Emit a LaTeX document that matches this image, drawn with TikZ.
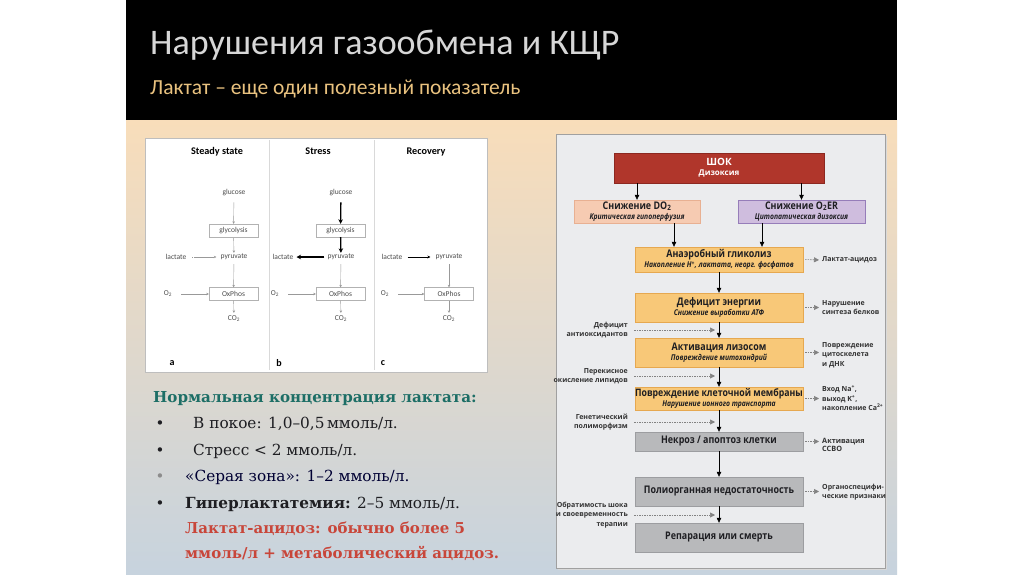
\documentclass[tikz,border=0pt]{standalone}
\usepackage{fontspec}
\setmainfont{DejaVu Serif}
\newfontfamily\calfont{Carlito}
\newfontfamily\ptfont{Open Sans}
\newfontfamily\condfont[FakeStretch=0.85]{Open Sans}
\usetikzlibrary{arrows.meta,calc}
\definecolor{bgtop}{RGB}{248,221,186}
\definecolor{bgbot}{RGB}{199,211,222}
\definecolor{ttlgray}{RGB}{215,215,215}
\definecolor{subgold}{RGB}{233,194,127}
\definecolor{headteal}{RGB}{29,110,102}
\definecolor{redtxt}{RGB}{200,70,58}
\definecolor{darktxt}{RGB}{30,30,34}
\definecolor{imgborder}{RGB}{190,190,190}
\definecolor{panelfill}{RGB}{235,236,238}
\definecolor{panelline}{RGB}{160,160,160}
\definecolor{shockfill}{RGB}{176,54,43}
\definecolor{shockline}{RGB}{140,40,32}
\definecolor{dofill}{RGB}{246,203,178}
\definecolor{doline}{RGB}{232,176,146}
\definecolor{erfill}{RGB}{207,189,222}
\definecolor{erline}{RGB}{150,125,185}
\definecolor{orfill}{RGB}{248,200,120}
\definecolor{orline}{RGB}{230,168,80}
\definecolor{gyfill}{RGB}{184,185,187}
\definecolor{gyline}{RGB}{156,157,160}
\definecolor{dashgray}{RGB}{130,130,130}
\begin{document}
\begin{tikzpicture}[x=1pt,y=-1pt,
  smalllab/.style={font=\calfont\fontsize{7.5}{9}\selectfont, text=black!70, inner sep=1pt},
  paneltitle/.style={font=\calfont\bfseries\fontsize{10.2}{11}\selectfont, inner sep=0pt, anchor=base},
  pbox/.style={draw=black!30, line width=0.4pt, minimum width=49pt, minimum height=13pt, inner sep=0pt, font=\calfont\fontsize{7.5}{9}\selectfont, text=black!70},
  paneltag/.style={font=\calfont\bfseries\fontsize{10}{11}\selectfont, inner sep=0pt},
  thinarr/.style={-{Stealth[length=2.5pt,width=2.5pt]}, black!40, line width=0.4pt},
  thickarr/.style={-{Stealth[length=4.5pt,width=4.5pt]}, black, line width=1.3pt},
  medarr/.style={-{Stealth[length=3pt,width=3pt]}, black, line width=0.8pt},
  flowbox/.style={minimum width=168pt, align=center, inner sep=0pt, text=darktxt},
  gtitle/.style={font=\condfont\bfseries\fontsize{10.5}{11}\selectfont},
  downarr/.style={-{Triangle[length=5pt,width=4.5pt]}, black, line width=0.6pt},
  dasharr/.style={dash pattern=on 1.5pt off 1pt, dashgray, line width=0.6pt, -{Triangle[length=5pt,width=5pt]}},
  sidelab/.style={font=\ptfont\bfseries\fontsize{7}{9.5}\selectfont, text=black!80, inner sep=0pt},
  bodytxt/.style={font=\fontsize{15.3}{18}\selectfont, text=darktxt, inner sep=0pt, anchor=base west},
  bulletdot/.style={font=\fontsize{15}{18}\selectfont, text=darktxt, inner sep=0pt, anchor=base}]
\useasboundingbox (0,0) rectangle (1024,574);
\fill[white] (0,0) rectangle (1024,574);
% slide background
\shade[top color=bgtop, bottom color=bgbot] (126,120) rectangle (897,574);
\fill[black] (126,0) rectangle (897,120);
\node[anchor=base west, inner sep=0pt, text=ttlgray, font=\calfont\fontsize{36}{40}\selectfont] (title) at (150,54) {Нарушения газообмена и КЩР};
\node[anchor=base west, inner sep=0pt, text=subgold, font=\calfont\fontsize{21.5}{24}\selectfont] (subtitle) at (150,94) {Лактат – еще один полезный показатель};

% ---------- left image ----------
\draw[imgborder, fill=white, line width=0.8pt] (145,138) rectangle (487,372);
\draw[black!15, line width=0.6pt] (269,140) -- (269,370);
\draw[black!15, line width=0.6pt] (374,140) -- (374,370);
\node[paneltitle] (ta) at (217,154.5) {Steady state};
\node[paneltitle] (tb) at (318,154.5) {Stress};
\node[paneltitle] (tc) at (426,154.5) {Recovery};
% panel a
\node[smalllab] (glua) at (234,193) {glucose};
\node[pbox] (glya) at (233.5,230.5) {glycolysis};
\node[smalllab] (pyra) at (234,257) {pyruvate};
\node[smalllab] (laca) at (176,257) {lactate};
\node[pbox] (oxa) at (233.5,294) {OxPhos};
\node[smalllab] (o2a) at (168,294) {O\textsubscript{2}};
\node[smalllab] (co2a) at (234,319) {CO\textsubscript{2}};
\node[paneltag] (la) at (172,363) {a};
\draw[thinarr, shorten <=5pt] (glua) -- (glya);
\draw[thinarr, shorten <=1pt] (glya) -- (pyra);
\draw[thinarr, dash pattern=on 0.6pt off 1.2pt on 20pt, shorten <=5pt, shorten >=3pt] (laca) -- (pyra);
\draw[thinarr, shorten <=3pt] (pyra) -- (oxa);
\draw[thinarr, shorten <=8pt] (o2a) -- (oxa);
\draw[thinarr, shorten >=2pt] (oxa) -- (co2a);
% panel b
\node[smalllab] (glub) at (341,193) {glucose};
\node[pbox] (glyb) at (340.5,230.5) {glycolysis};
\node[smalllab] (pyrb) at (341,257) {pyruvate};
\node[smalllab] (lacb) at (283,257) {lactate};
\node[pbox] (oxb) at (340.5,294) {OxPhos};
\node[smalllab] (o2b) at (275,294) {O\textsubscript{2}};
\node[smalllab] (co2b) at (341,319) {CO\textsubscript{2}};
\node[paneltag] (lb) at (279,363) {b};
\draw[thickarr, shorten <=5pt] (glub) -- (glyb);
\draw[thickarr, shorten <=0pt] (glyb) -- (pyrb);
\draw[thickarr, shorten <=2pt, shorten >=2pt] (pyrb) -- (lacb);
\draw[thinarr, shorten <=3pt] (pyrb) -- (oxb);
\draw[thinarr, shorten <=8pt] (o2b) -- (oxb);
\draw[thinarr, shorten >=2pt] (oxb) -- (co2b);
% panel c
\node[smalllab] (pyrc) at (449,257) {pyruvate};
\node[smalllab] (lacc) at (392,257) {lactate};
\node[pbox] (oxc) at (449,294) {OxPhos};
\node[smalllab] (o2c) at (385,294) {O\textsubscript{2}};
\node[smalllab] (co2c) at (449,319) {CO\textsubscript{2}};
\node[paneltag] (lc) at (383,363) {c};
\draw[medarr, shorten <=4pt, shorten >=4pt] (lacc) -- (pyrc);
\draw[thinarr, shorten <=3pt] (pyrc) -- (oxc);
\draw[thinarr, shorten <=8pt] (o2c) -- (oxc);
\draw[thinarr, shorten >=2pt] (oxc) -- (co2c);

% ---------- left text ----------
\node[anchor=base west, inner sep=0pt, text=headteal, font=\bfseries\fontsize{15.1}{18}\selectfont] (head) at (153,402) {Нормальная концентрация лактата:};
\node[bulletdot] (b1) at (160,428) {•};
\node[bodytxt] (t1) at (193,428) {В покое: 1,0–0,5\,ммоль/л.};
\node[bulletdot] (b2) at (160,455) {•};
\node[bodytxt] (t2) at (193,455) {Стресс < 2 ммоль/л.};
\node[bulletdot, text=black!45] (b3) at (160,481) {•};
\node[bodytxt, text=black!80!blue] (t3) at (185,481) {«Серая зона»: 1–2 ммоль/л.};
\node[bulletdot] (b4) at (160,508) {•};
\node[bodytxt] (t4) at (185,508) {\textbf{Гиперлактатемия:} 2–5 ммоль/л.};
\node[bodytxt, text=redtxt, font=\bfseries\fontsize{15}{18}\selectfont] (r1) at (185,533) {Лактат-ацидоз: обычно более 5};
\node[bodytxt, text=redtxt, font=\bfseries\fontsize{15}{18}\selectfont] (r2) at (185,558) {ммоль/л + метаболический ацидоз.};

% ---------- right flowchart ----------
\fill[black!15] (557.5,135.5) rectangle (886.5,569.5);
\draw[panelline, fill=panelfill, line width=0.8pt] (556,134) rectangle (885,568);

\node[flowbox, minimum width=210pt, minimum height=30pt, fill=shockfill, draw=shockline, text=white] (shock) at (719,168)
  {{\ptfont\bfseries\fontsize{10}{11}\selectfont ШОК}\\[-2pt]{\ptfont\bfseries\fontsize{8}{9}\selectfont Дизоксия}};
\node[flowbox, minimum width=126pt, minimum height=23pt, fill=dofill, draw=doline] (do2) at (637,211.5)
  {{\condfont\bfseries\fontsize{10.5}{10}\selectfont Снижение DO\textsubscript{2}}\\[-1.5pt]{\condfont\bfseries\itshape\fontsize{8}{8}\selectfont Критическая гипоперфузия}};
\node[flowbox, minimum width=127pt, minimum height=23pt, fill=erfill, draw=erline] (o2er) at (801.5,211.5)
  {{\condfont\bfseries\fontsize{10.5}{10}\selectfont Снижение O\textsubscript{2}ER}\\[-1.5pt]{\condfont\bfseries\itshape\fontsize{8}{8}\selectfont Цитопатическая дизоксия}};
\node[flowbox, minimum height=25pt, fill=orfill, draw=orline] (anaer) at (719,259.5)
  {{\condfont\bfseries\fontsize{10.5}{10}\selectfont Анаэробный гликолиз}\\[-1.5pt]{\condfont\bfseries\itshape\fontsize{8}{8}\selectfont Накопление H\textsuperscript{+}, лактата, неорг. фосфатов}};
\node[flowbox, minimum height=29pt, fill=orfill, draw=orline] (energy) at (719,307.5)
  {{\condfont\bfseries\fontsize{10.5}{10}\selectfont Дефицит энергии}\\[-1.5pt]{\condfont\bfseries\itshape\fontsize{8}{8}\selectfont Снижение выработки АТФ}};
\node[flowbox, minimum height=29pt, fill=orfill, draw=orline] (lyso) at (719,352.5)
  {{\condfont\bfseries\fontsize{10.5}{10}\selectfont Активация лизосом}\\[-1.5pt]{\condfont\bfseries\itshape\fontsize{8}{8}\selectfont Повреждение митохондрий}};
\node[flowbox, minimum height=23pt, fill=orfill, draw=orline] (memb) at (719,398.5)
  {{\condfont\bfseries\fontsize{10.3}{10}\selectfont Повреждение клеточной мембраны}\\[-1.5pt]{\condfont\bfseries\itshape\fontsize{8}{8}\selectfont Нарушение ионного транспорта}};
\node[flowbox, minimum height=19pt, fill=gyfill, draw=gyline, gtitle] (necro) at (719,441.5) {Некроз / апоптоз клетки};
\node[flowbox, minimum height=29pt, fill=gyfill, draw=gyline, gtitle] (mof) at (719,491.5) {Полиорганная недостаточность};
\node[flowbox, minimum height=29pt, fill=gyfill, draw=gyline, gtitle] (rep) at (719,537.5) {Репарация или смерть};

% vertical arrows
\draw[downarr] (shock.south -| do2) -- (do2.north);
\draw[downarr] (shock.south -| o2er) -- (o2er.north);
\draw[downarr] ([xshift=37pt]do2.south) -- ([xshift=37pt]do2.south |- anaer.north);
\draw[downarr] ([xshift=-39.5pt]o2er.south) -- ([xshift=-39.5pt]o2er.south |- anaer.north);
\draw[downarr] (anaer) -- (energy);
\draw[downarr] (energy) -- (lyso);
\draw[downarr] (lyso) -- (memb);
\draw[downarr] (memb) -- (necro);
\draw[downarr] (necro) -- (mof);
\draw[downarr] (mof) -- (rep);

% right labels
\node[sidelab, anchor=west, align=left] (rl1) at (822,260) {Лактат-ацидоз};
\node[sidelab, anchor=west, align=left] (rl2) at (822,307.5) {Нарушение\\синтеза белков};
\node[sidelab, anchor=west, align=left] (rl3) at (822,355) {Повреждение\\цитоскелета\\и ДНК};
\node[sidelab, anchor=west, align=left] (rl4) at (822,398.5) {Вход Na\textsuperscript{+},\\выход K\textsuperscript{+},\\накопление Ca\textsuperscript{2+}};
\node[sidelab, anchor=west, align=left, font=\ptfont\bfseries\fontsize{7.3}{8}\selectfont] (rl5) at (822,444.5) {Активация\\ССВО};
\node[sidelab, anchor=west, align=left] (rl6) at (822,492) {Органоспецифи-\\ческие признаки};
\draw[dasharr, shorten <=2pt, shorten >=3pt] (anaer.east) -- (rl1.west);
\draw[dasharr, shorten <=2pt, shorten >=3pt] (energy.east) -- (energy.east -| rl2.west);
\draw[dasharr, shorten <=2pt, shorten >=3pt] (lyso.east) -- (lyso.east -| rl3.west);
\draw[dasharr, shorten <=2pt, shorten >=3pt] (memb.east) -- (memb.east -| rl4.west);
\draw[dasharr, shorten <=2pt, shorten >=3pt] (necro.east) -- (necro.east -| rl5.west);
\draw[dasharr, shorten <=2pt, shorten >=3pt] (mof.east) -- (mof.east -| rl6.west);

% left labels
\node[sidelab, anchor=east, align=right] (ll1) at (628,330) {Дефицит\\антиоксидантов};
\node[sidelab, anchor=east, align=right] (ll2) at (628,376) {Перекисное\\окисление липидов};
\node[sidelab, anchor=east, align=right] (ll3) at (628,422) {Генетический\\полиморфизм};
\node[sidelab, anchor=east, align=right] (ll4) at (628,515) {Обратимость шока\\и своевременность\\терапии};
\coordinate (e1) at (715,330);
\coordinate (e2) at (715,376);
\coordinate (e3) at (715,422);
\coordinate (e4) at (715,515);
\draw[dasharr, shorten <=6pt] (ll1.east) -- (e1);
\draw[dasharr, shorten <=6pt] (ll2.east) -- (e2);
\draw[dasharr, shorten <=6pt] (ll3.east) -- (e3);
\draw[dasharr, shorten <=6pt] (ll4.east) -- (e4);
\end{tikzpicture}
\end{document}
